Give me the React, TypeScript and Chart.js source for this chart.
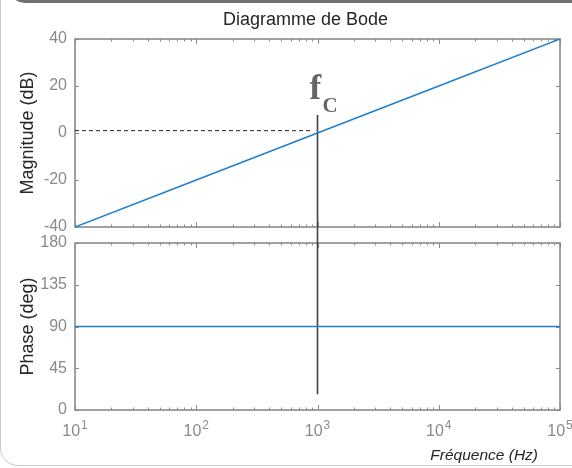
import React, { useEffect, useRef } from 'react';
import { Chart, registerables } from 'chart.js';

Chart.register(...registerables);

// ---- data ----
const freqHz = [10, 100, 1000, 10000, 100000];
const magnitudeDb = [-40, -20, 0, 20, 40];
const phaseDeg = [90, 90, 90, 90, 90];
const magTicks = [-40, -20, 0, 20, 40];
const phaseTicks = [0, 45, 90, 135, 180];
const decadeTicks = [10, 100, 1000, 10000, 100000];
const decadeBase = '10';
const decadeExponents = ['1', '2', '3', '4', '5'];
const refLineFreq = [10, 870];
const refLineDb = [1, 1];
const cutoffFreq = 1000;
const cutoffMagDb = [7.7, -45];
const cutoffPhaseDeg = [200, 17];

const AXIS_GRAY = '#8a8a8a';
const LABEL_DARK = '#262626';
const BLUE = '#1f80cf';
const SANS = "'Liberation Sans', Arial, sans-serif";
const SERIF = "'Liberation Serif', 'DejaVu Serif', serif";

function boxPlugin(id: string) {
  return {
    id,
    beforeDatasetsDraw(chart: any) {
      const { ctx, chartArea } = chart;
      const { left, right, top, bottom } = chartArea;
      const xs = chart.scales.x;
      const ys = chart.scales.y;
      ctx.save();
      ctx.strokeStyle = AXIS_GRAY;
      ctx.lineWidth = 1;
      const seg = (x1: number, y1: number, x2: number, y2: number) => {
        ctx.beginPath();
        ctx.moveTo(x1, y1);
        ctx.lineTo(x2, y2);
        ctx.stroke();
      };
      xs.ticks.forEach((t: any) => {
        const px = Math.round(xs.getPixelForValue(t.value)) + 0.5;
        seg(px, bottom, px, bottom - 5);
        seg(px, top, px, top + 5);
        if (t.value < xs.max) {
          for (let m = 2; m <= 9; m++) {
            const mp = Math.round(xs.getPixelForValue(t.value * m)) + 0.5;
            seg(mp, bottom, mp, bottom - 2.5);
            seg(mp, top, mp, top + 2.5);
          }
        }
      });
      ys.ticks.forEach((t: any) => {
        const py = Math.round(ys.getPixelForValue(t.value)) + 0.5;
        seg(left, py, left + 4, py);
        seg(right, py, right - 4, py);
      });
      ctx.lineWidth = 1.6;
      ctx.strokeRect(left, top, right - left, bottom - top);
      ctx.restore();
    },
  };
}

const topTextPlugin = {
  id: 'topText',
  afterDraw(chart: any) {
    const { ctx, chartArea } = chart;
    const xs = chart.scales.x;
    ctx.save();
    ctx.fillStyle = LABEL_DARK;
    ctx.font = `18px ${SANS}`;
    ctx.textAlign = 'center';
    ctx.textBaseline = 'alphabetic';
    ctx.fillText('Diagramme de Bode', (chartArea.left + chartArea.right) / 2 - 12, 24.5);
    const fx = xs.getPixelForValue(cutoffFreq);
    ctx.fillStyle = '#666666';
    ctx.textAlign = 'left';
    ctx.font = `bold 35px ${SERIF}`;
    ctx.fillText('f', fx - 8, 99);
    ctx.font = `bold 21px ${SERIF}`;
    ctx.fillText('C', fx + 5, 112);
    ctx.restore();
  },
};

const bottomTextPlugin = {
  id: 'bottomText',
  afterDraw(chart: any) {
    const { ctx, chartArea } = chart;
    const xs = chart.scales.x;
    ctx.save();
    // decade tick labels: 10 with raised exponent
    ctx.fillStyle = AXIS_GRAY;
    ctx.textBaseline = 'alphabetic';
    ctx.textAlign = 'left';
    xs.ticks.forEach((t: any, i: number) => {
      const px = xs.getPixelForValue(t.value);
      ctx.font = `16px ${SANS}`;
      const wb = ctx.measureText(decadeBase).width;
      ctx.font = `12px ${SANS}`;
      const we = ctx.measureText(decadeExponents[i]).width;
      const x0 = px - (wb + we + 1) / 2;
      const base = chartArea.bottom + 26;
      ctx.font = `16px ${SANS}`;
      ctx.fillText(decadeBase, x0, base);
      ctx.font = `12px ${SANS}`;
      ctx.fillText(decadeExponents[i], x0 + wb + 1, base - 7);
    });
    ctx.fillStyle = LABEL_DARK;
    ctx.font = `italic 15.5px ${SANS}`;
    ctx.textAlign = 'right';
    ctx.textBaseline = 'middle';
    ctx.fillText('Fréquence (Hz)', chartArea.right - 22, chartArea.bottom + 46);
    ctx.restore();
  },
};

function zeroPad(s: any) {
  s.paddingTop = 0;
  s.paddingBottom = 0;
  s.paddingLeft = 0;
  s.paddingRight = 0;
}

function xScale(showAxis: boolean) {
  return {
    type: 'logarithmic' as const,
    min: freqHz[0],
    max: freqHz[freqHz.length - 1],
    display: showAxis,
    afterBuildTicks: (s: any) => {
      s.ticks = decadeTicks.map((v) => ({ value: v }));
    },
    afterFit: (s: any) => {
      if (showAxis) s.height = 58;
      zeroPad(s);
    },
    grid: { display: false, drawTicks: false },
    border: { display: false },
    ticks: {
      padding: 0,
      maxRotation: 0,
      autoSkip: false,
      font: { family: SANS, size: 16 },
      callback: () => '',
    },
  };
}

function yScale(ticks: number[], title: string) {
  return {
    type: 'linear' as const,
    min: ticks[0],
    max: ticks[ticks.length - 1],
    afterBuildTicks: (s: any) => {
      s.ticks = ticks.map((v) => ({ value: v }));
    },
    afterFit: (s: any) => {
      s.width = 75;
      zeroPad(s);
    },
    grid: { display: false, drawTicks: false },
    border: { display: false },
    ticks: {
      color: AXIS_GRAY,
      padding: 8,
      font: { family: SANS, size: 16 },
      callback: (v: any) => String(v),
    },
    title: {
      display: true,
      text: title,
      color: LABEL_DARK,
      font: { family: SANS, size: 18 },
      padding: { top: 17, bottom: 0 },
    },
  };
}

export default function App() {
  const topRef = useRef<HTMLCanvasElement>(null);
  const botRef = useRef<HTMLCanvasElement>(null);

  useEffect(() => {
    const topChart = new Chart(topRef.current as HTMLCanvasElement, {
      type: 'line',
      data: {
        datasets: [
          {
            data: refLineFreq.map((f, i) => ({ x: f, y: refLineDb[i] })),
            borderColor: '#222222',
            borderWidth: 1,
            borderDash: [4, 3],
            pointRadius: 0,
          },
          {
            data: freqHz.map((f, i) => ({ x: f, y: magnitudeDb[i] })),
            borderColor: BLUE,
            borderWidth: 1.5,
            pointRadius: 0,
          },
          {
            data: cutoffMagDb.map((v) => ({ x: cutoffFreq, y: v })),
            borderColor: '#444444',
            borderWidth: 1.6,
            pointRadius: 0,
            clip: false as any,
          },
        ],
      },
      options: {
        responsive: false,
        animation: false,
        devicePixelRatio: 1,
        layout: { padding: { left: 0, right: 12, top: 39, bottom: 8 } },
        plugins: { legend: { display: false }, tooltip: { enabled: false }, title: { display: false } },
        scales: { x: xScale(false) as any, y: yScale(magTicks, 'Magnitude (dB)') as any },
      },
      plugins: [boxPlugin('boxTop'), topTextPlugin],
    });

    const botChart = new Chart(botRef.current as HTMLCanvasElement, {
      type: 'line',
      data: {
        datasets: [
          {
            data: freqHz.map((f, i) => ({ x: f, y: phaseDeg[i] })),
            borderColor: BLUE,
            borderWidth: 1.5,
            pointRadius: 0,
          },
          {
            data: cutoffPhaseDeg.map((v) => ({ x: cutoffFreq, y: v })),
            borderColor: '#444444',
            borderWidth: 1.6,
            pointRadius: 0,
            clip: false as any,
          },
        ],
      },
      options: {
        responsive: false,
        animation: false,
        devicePixelRatio: 1,
        layout: { padding: { left: 0, right: 12, top: 8, bottom: 0 } },
        plugins: { legend: { display: false }, tooltip: { enabled: false } },
        scales: { x: xScale(true) as any, y: yScale(phaseTicks, 'Phase (deg)') as any },
      },
      plugins: [boxPlugin('boxBot'), bottomTextPlugin],
    });

    return () => {
      topChart.destroy();
      botChart.destroy();
    };
  }, []);

  return (
    <div
      style={{
        position: 'fixed',
        left: 0,
        top: 0,
        width: 572,
        height: 468,
        overflow: 'hidden',
        background: '#ffffff',
      }}
    >
      <div
        style={{
          position: 'absolute',
          left: 0,
          top: -40,
          width: 700,
          height: 506,
          border: '1px solid #c8c8c8',
          borderRadius: 18,
          boxSizing: 'border-box',
        }}
      />
      <div
        style={{
          position: 'absolute',
          left: 9,
          top: -40,
          width: 700,
          height: 43,
          border: '3px solid #707070',
          borderRadius: 16,
          boxSizing: 'border-box',
        }}
      />
      <canvas
        ref={topRef}
        width={572}
        height={235}
        style={{ position: 'absolute', left: 0, top: 0, width: 572, height: 235 }}
      />
      <canvas
        ref={botRef}
        width={572}
        height={233}
        style={{ position: 'absolute', left: 0, top: 235, width: 572, height: 233 }}
      />
    </div>
  );
}
